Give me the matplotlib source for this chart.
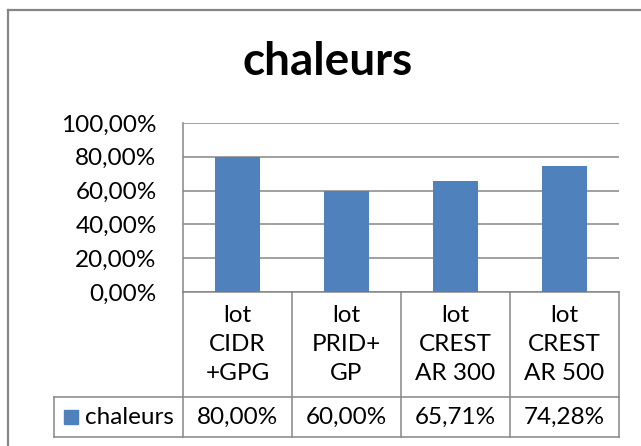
import matplotlib.pyplot as plt
from matplotlib.patches import Rectangle
from matplotlib.ticker import FuncFormatter

plt.rcParams['font.family'] = ['Lato', 'DejaVu Sans']

series_name = "chaleurs"
lots = ["lot\nCIDR\n+GPG", "lot\nPRID+\nGP", "lot\nCREST\nAR 300", "lot\nCREST\nAR 500"]
taux = [80.00, 60.00, 65.71, 74.28]
yticks = [0, 20, 40, 60, 80, 100]

bar_color = "#4F81BD"
line_color = "#868686"
fs = 17.5


def pct(v, pos=None):
    return "{:.2f}%".format(v).replace(".", ",")


fig = plt.figure(figsize=(6.41, 4.46), dpi=100)

# outer frame of the chart (only the top and left edges show)
fig.add_artist(plt.Line2D([8 / 641, 1], [1 - 10 / 446, 1 - 10 / 446], color=line_color, lw=1.6))
fig.add_artist(plt.Line2D([8 / 641, 8 / 641], [0, 1 - 10 / 446], color=line_color, lw=1.6))

ax = fig.add_axes([183 / 641, 1 - 292 / 446, 436 / 641, 169 / 446])
x = range(len(taux))
ax.bar(x, taux, width=0.41, color=bar_color, zorder=3)
ax.set_xlim(-0.5, len(taux) - 0.5)
ax.set_ylim(0, 100)
ax.set_yticks(yticks)
ax.yaxis.set_major_formatter(FuncFormatter(pct))
ax.tick_params(axis="y", length=0, pad=19, labelsize=fs)
ax.set_xticks([])
ax.grid(axis="y", color=line_color, lw=1.1, zorder=0)
for side in ["top", "right", "bottom"]:
    ax.spines[side].set_visible(False)
ax.spines["left"].set_color(line_color)
ax.spines["left"].set_linewidth(1.1)

fig.text(328 / 641, 1 - 62 / 446, series_name, ha="center", va="center",
         fontsize=33, fontweight="bold")

# data table under the bars
tr = ax.transAxes
row1 = -105 / 169
row2 = -145 / 169
left_leg = -129 / 436
n = len(taux)
kw = dict(transform=tr, color=line_color, lw=1.1, clip_on=False)
ax.plot([0, 1], [0, 0], **kw)
ax.plot([left_leg, 1], [row1, row1], **kw)
ax.plot([left_leg, 1], [row2, row2], **kw)
ax.plot([left_leg, left_leg], [row1, row2], **kw)
for i in range(n + 1):
    ax.plot([i / n, i / n], [0, row2], **kw)

for i, (lab, v) in enumerate(zip(lots, taux)):
    xc = (i + 0.5) / n
    ax.text(xc, row1 / 2, lab, transform=tr, ha="center", va="center",
            fontsize=fs, linespacing=1.5)
    ax.text(xc, (row1 + row2) / 2, pct(v), transform=tr, ha="center",
            va="center", fontsize=fs)

ax.add_patch(Rectangle((-119 / 436, (row1 + row2) / 2 - 7 / 169), 14 / 436, 14 / 169,
                       transform=tr, color=bar_color, clip_on=False))
ax.text(-98 / 436, (row1 + row2) / 2, series_name, transform=tr, ha="left",
        va="center", fontsize=fs)

fig.savefig("out.png", dpi=100)
